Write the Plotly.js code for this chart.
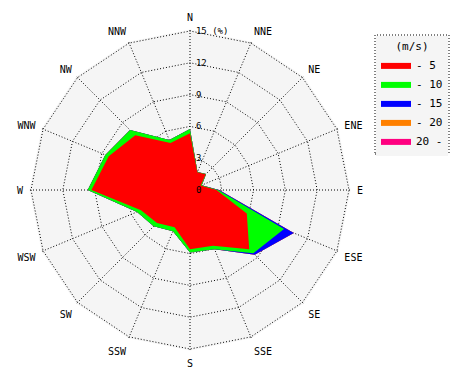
<!DOCTYPE html>
<html><head><meta charset="utf-8">
<script src="https://cdn.plot.ly/plotly-3.0.1.min.js"></script>
<style>body{margin:0;background:#fff;}#chart{width:470px;height:380px;}</style>
</head><body><div id="chart"></div>
<script>
const directions = ['N','NNE','NE','ENE','E','ESE','SE','SSE','S','SSW','SW','WSW','W','WNW','NW','NNW'];
const speedBins = ['- 5','- 10','- 15','- 20','20 -'];
const binColors = ['#ff0000','#00ff00','#0000ff','#ff8000','#ff0080'];
const freq0to5   = [5.35,1.8,2.1,1.1,2.5,5.8,7.9,5.7,5.6,3.8,4.4,5.0,9.3,8.3,7.3,4.8];
const freq5to10  = [0.4,0.05,0.05,0.1,0.15,3.8,0.55,0.35,0.3,0.4,0.45,0.4,0.35,0.35,0.7,0.3];
const freq10to15 = [0,0,0,0,0.1,1.0,0.2,0,0,0,0,0,0,0,0,0];
const freq15to20 = [0,0,0,0,0,0,0,0,0,0,0,0,0,0,0,0];
const freq20up   = [0,0,0,0,0,0,0,0,0,0,0,0,0,0,0,0];
const radialTicks = [0,3,6,9,12,15];
const radialTickText = ['0','3','6','9','12','15 (%)'];

const bins = [freq0to5,freq5to10,freq10to15,freq15to20,freq20up];
const cum = [];
let run = directions.map(()=>0);
bins.forEach(b=>{ run = run.map((v,i)=>v+b[i]); cum.push(run.slice()); });

const traces = [];
for (let k = bins.length-1; k >= 0; k--) {
  traces.push({
    type:'scatterpolar', mode:'lines', fill:'toself',
    r: cum[k].concat([cum[k][0]]),
    theta: directions.concat([directions[0]]),
    fillcolor: binColors[k],
    line:{width:0, color: binColors[k]},
    name: speedBins[k],
    hoverinfo:'skip'
  });
}

const font = {family:'DejaVu Sans Mono', size:11, color:'#000'};
const rMax = 15.15;
const R = 159 * rMax / 15;
const layout = {
  width:470, height:380,
  margin:{l:0,r:0,t:0,b:0},
  paper_bgcolor:'#ffffff',
  font: font,
  showlegend:true,
  legend:{
    x:0.8, y:0.905, xanchor:'left', yanchor:'top',
    bgcolor:'#f5f5f5', borderwidth:0,
    traceorder:'reversed',
    title:{text:'(m/s)', side:'top center', font:font},
    font:font
  },
  polar:{
    domain:{x:[(190-R)/470, (190+R)/470], y:[(190-R)/380, (190+R)/380]},
    bgcolor:'#f5f5f5',
    gridshape:'linear',
    angularaxis:{
      direction:'clockwise', rotation:90,
      categoryorder:'array', categoryarray:directions,
      showline:false, gridcolor:'#000', griddash:'1px,2px', gridwidth:1,
      ticks:'outside', ticklen:4, tickcolor:'rgba(0,0,0,0)',
      tickfont:{family:'DejaVu Sans Mono', size:10, color:'#000'}
    },
    radialaxis:{
      range:[0,rMax], tickvals:radialTicks,
      ticktext:radialTickText.map(t=>'\u00a0'+t),
      angle:90, tickangle:90, side:'clockwise',
      showline:false, gridcolor:'#000', griddash:'1px,2px', gridwidth:1,
      ticks:'', tickfont:{family:'DejaVu Sans Mono', size:9, color:'#000'}
    }
  },
  shapes:[{
    type:'rect', xref:'paper', yref:'paper',
    x0:375/470, x1:449/470, y0:1-154/380, y1:1-35/380,
    line:{color:'#000', width:1, dash:'1px,2px'}, fillcolor:'rgba(0,0,0,0)', layer:'above'
  }]
};
Plotly.newPlot('chart', traces, layout, {displayModeBar:false, staticPlot:true});
</script>
</body></html>
